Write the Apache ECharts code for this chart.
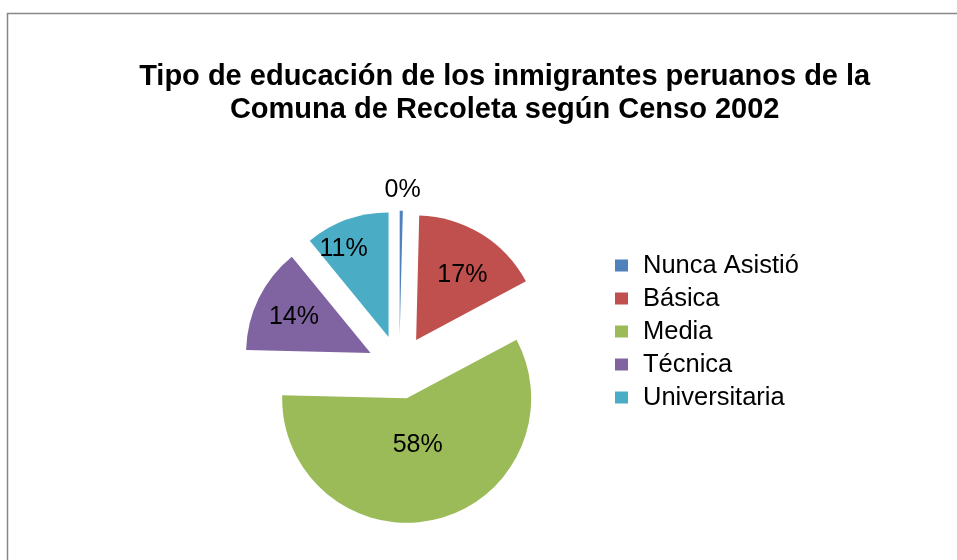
<!DOCTYPE html>
<html>
<head>
<meta charset="utf-8">
<script src="https://cdn.jsdelivr.net/npm/echarts@6/dist/echarts.min.js"></script>
<style>
html,body{margin:0;padding:0;background:#fff;}
#chart{width:957px;height:560px;}
</style>
</head>
<body>
<div id="chart"></div>
<script>
const titleLines = ['Tipo de educación de los inmigrantes peruanos de la', 'Comuna de Recoleta según Censo 2002'];
const categories = ['Nunca Asistió', 'Básica', 'Media', 'Técnica', 'Universitaria'];
const values = [0.4, 16.8, 58.2, 13.7, 10.9];
const colors = ['#4F81BD', '#C0504D', '#9BBB59', '#8064A2', '#4BACC6'];
// label styling per slice (inside/outside placement and fine nudges)
const labelPlacement = ['outside', 'inside', 'inside', 'inside', 'inside'];
const labelNudge = [[-17, 0], [12, -9], [-4, -17], [-18, -7], [-23, -26]];

const chart = echarts.init(document.getElementById('chart'), null, {renderer: 'canvas'});
const font = 'Liberation Sans, Arial, sans-serif';

const data = categories.map((name, i) => ({
  name: name,
  value: values[i],
  selected: true,
  itemStyle: {color: colors[i]},
  select: {itemStyle: {color: colors[i]}},
  label: {
    position: labelPlacement[i],
    distanceToLabelLine: 0
  },
  labelLine: {show: false, length: 21, length2: 0}
}));

chart.setOption({
  animation: false,
  backgroundColor: '#ffffff',
  color: colors,
  title: {
    text: titleLines.join('\n'),
    left: 499.7,
    top: 55.5,
    textAlign: 'center',
    textStyle: {
      fontFamily: font,
      fontSize: 29,
      fontWeight: 'bold',
      color: '#000',
      lineHeight: 33
    }
  },
  legend: {
    orient: 'vertical',
    left: 610,
    top: 247.5,
    itemWidth: 13,
    itemHeight: 12,
    itemGap: 7,
    icon: 'rect',
    selectedMode: false,
    textStyle: {fontFamily: font, fontSize: 25.5, color: '#000', padding: [0, 0, 0, 10]},
    data: categories
  },
  graphic: [{
    type: 'rect',
    shape: {x: 7.5, y: 13.5, width: 1000, height: 600},
    style: {fill: 'none', stroke: '#878787', lineWidth: 1.5},
    silent: true,
    z: -1
  }],
  series: [{
    type: 'pie',
    center: [399.3, 367.2],
    radius: 124.5,
    startAngle: 90,
    clockwise: true,
    selectedMode: 'multiple',
    selectedOffset: 32,
    avoidLabelOverlap: false,
    emphasis: {disabled: true, scale: false},
    label: {
      show: true,
      fontFamily: font,
      fontSize: 25,
      color: '#000',
      formatter: p => Math.round(p.percent) + '%'
    },
    labelLayout: p => ({dx: labelNudge[p.dataIndex][0], dy: labelNudge[p.dataIndex][1]}),
    data: data
  }]
});
</script>
</body>
</html>
